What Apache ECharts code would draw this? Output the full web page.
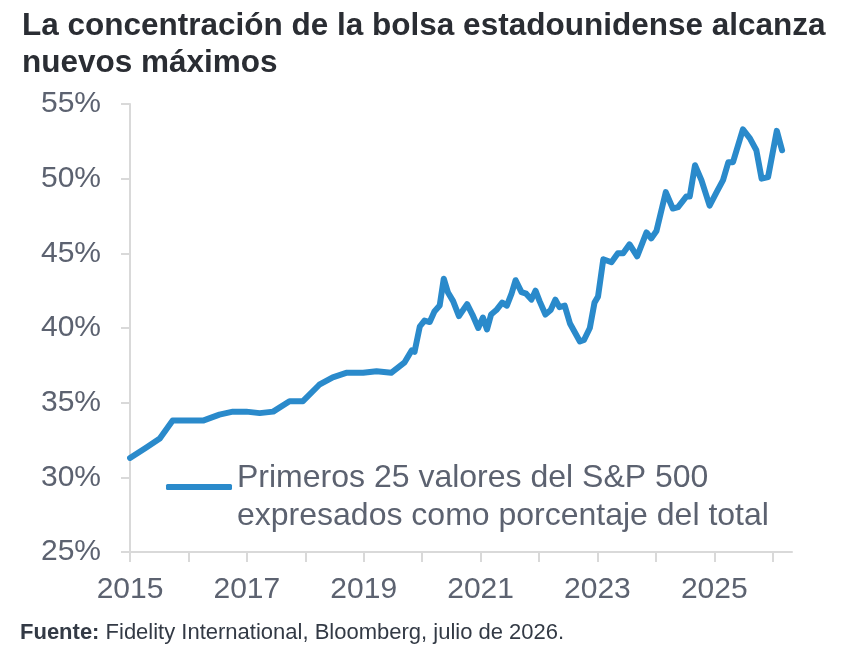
<!DOCTYPE html>
<html>
<head>
<meta charset="utf-8">
<script src="https://cdn.jsdelivr.net/npm/echarts@6/dist/echarts.min.js"></script>
<style>
  html, body { margin: 0; padding: 0; background: #fff; }
  #chart { width: 861px; height: 662px; }
</style>
</head>
<body>
<div id="chart"></div>
<script>
// fecha (año decimal) y peso de los 25 primeros valores del S&P 500 (%)
const dates = [
  2015.00, 2015.28, 2015.51, 2015.73, 2016.25, 2016.53, 2016.76, 2016.99,
  2017.22, 2017.45, 2017.73, 2017.96, 2018.24, 2018.47, 2018.70, 2018.99,
  2019.22, 2019.47, 2019.70, 2019.82, 2019.87, 2019.96, 2020.04, 2020.13,
  2020.21, 2020.30, 2020.37, 2020.44, 2020.53, 2020.63, 2020.77, 2020.86,
  2020.96, 2021.04, 2021.11, 2021.18, 2021.27, 2021.37, 2021.45, 2021.53,
  2021.60, 2021.70, 2021.78, 2021.87, 2021.94, 2022.01, 2022.11, 2022.20,
  2022.28, 2022.35, 2022.44, 2022.53, 2022.70, 2022.77, 2022.87, 2022.95,
  2023.01, 2023.10, 2023.24, 2023.35, 2023.44, 2023.55, 2023.68, 2023.84,
  2023.92, 2024.01, 2024.17, 2024.29, 2024.38, 2024.52, 2024.58, 2024.67,
  2024.78, 2024.92, 2025.04, 2025.15, 2025.24, 2025.32, 2025.49, 2025.61,
  2025.72, 2025.81, 2025.92, 2026.07, 2026.16
];
const top25Share = [
  31.3, 32.0, 32.6, 33.8, 33.8, 34.2, 34.4, 34.4,
  34.3, 34.4, 35.1, 35.1, 36.2, 36.7, 37.0, 37.0,
  37.1, 37.0, 37.7, 38.5, 38.4, 40.1, 40.5, 40.4,
  41.1, 41.5, 43.3, 42.4, 41.8, 40.8, 41.6, 40.9,
  40.0, 40.7, 39.9, 40.9, 41.2, 41.7, 41.5, 42.3,
  43.2, 42.4, 42.3, 41.9, 42.5, 41.8, 40.9, 41.2,
  41.9, 41.4, 41.5, 40.3, 39.1, 39.2, 40.0, 41.7,
  42.1, 44.6, 44.4, 45.0, 45.0, 45.6, 44.8, 46.4,
  46.0, 46.5, 49.1, 48.0, 48.1, 48.8, 48.8, 50.9,
  49.9, 48.2, 49.1, 49.9, 51.1, 51.1, 53.3, 52.7,
  51.9, 50.0, 50.1, 53.2, 51.9
];
const tickYears = [2015, 2016, 2017, 2018, 2019, 2020, 2021, 2022, 2023, 2024, 2025, 2026];
const labelYears = [2015, 2017, 2019, 2021, 2023, 2025];
const seriesName = 'Primeros 25 valores del S&P 500';
const seriesName2 = 'expresados como porcentaje del total';

const font = 'Arial, "Liberation Sans", sans-serif';
const grey = '#5c6270';
const axisGrey = '#d9d9d9';
const blue = '#2a8acb';

const chart = echarts.init(document.getElementById('chart'));

chart.setOption({
  animation: false,
  textStyle: { fontFamily: font },
  title: [
    {
      text: 'La concentración de la bolsa estadounidense alcanza\nnuevos máximos',
      left: 22,
      top: 8,
      padding: 0,
      textStyle: { fontSize: 31.5, fontWeight: 'bold', color: '#2a2d33', lineHeight: 37, fontFamily: font }
    },
    {
      text: '{b|Fuente:} Fidelity International, Bloomberg, julio de 2026.',
      left: 20,
      top: 622,
      padding: 0,
      textStyle: {
        fontSize: 22,
        fontWeight: 'normal',
        color: '#333a45',
        fontFamily: font,
        rich: { b: { fontSize: 22, fontWeight: 'bold', color: '#333a45', fontFamily: font } }
      }
    }
  ],
  legend: {
    left: 161,
    top: 442,
    icon: 'roundRect',
    itemWidth: 66,
    itemHeight: 6,
    // línea vacía arriba para bajar el texto respecto al símbolo
    formatter: name => '{s| }\n{t|' + name + '}\n{t|' + seriesName2 + '}',
    textStyle: {
      color: grey,
      fontFamily: font,
      rich: {
        s: { fontSize: 4, lineHeight: 20 },
        t: { fontSize: 32, lineHeight: 38, color: grey, fontFamily: font }
      }
    },
    data: [seriesName]
  },
  grid: { left: 130, top: 104, width: 662, height: 448, containLabel: false },
  xAxis: {
    type: 'value',
    min: 2015,
    max: 2026.33,
    axisLine: { show: true, lineStyle: { color: axisGrey, width: 2 } },
    axisTick: { show: true, length: 10, customValues: tickYears, lineStyle: { color: axisGrey, width: 2 } },
    axisLabel: {
      customValues: labelYears,
      fontSize: 30,
      color: grey,
      margin: 23,
      formatter: v => String(v)
    },
    splitLine: { show: false }
  },
  yAxis: {
    type: 'value',
    min: 25,
    max: 55,
    interval: 5,
    axisLine: { show: true, lineStyle: { color: axisGrey, width: 2 } },
    axisTick: { show: true, length: 9, lineStyle: { color: axisGrey, width: 2 } },
    axisLabel: { fontSize: 30, color: grey, margin: 29, formatter: '{value}%' },
    splitLine: { show: false }
  },
  series: [{
    name: seriesName,
    type: 'line',
    data: dates.map((d, i) => [d, top25Share[i]]),
    symbol: 'none',
    color: blue,
    lineStyle: { width: 6, color: blue, cap: 'round', join: 'round' }
  }]
});
</script>
</body>
</html>
